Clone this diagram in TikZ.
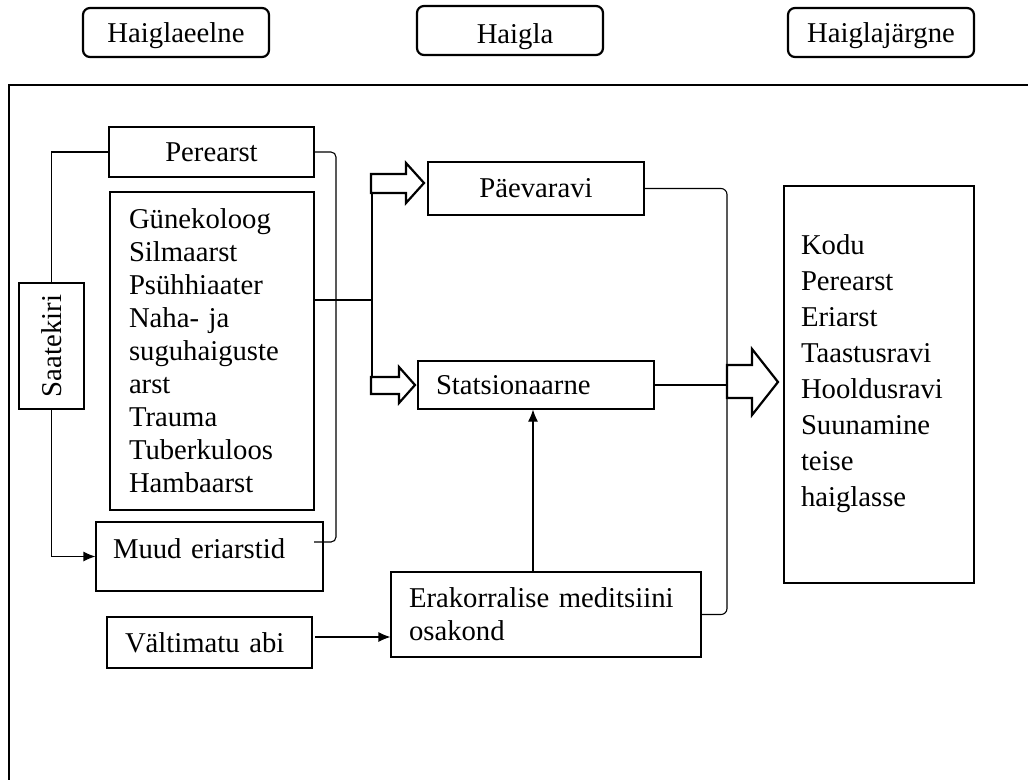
\documentclass[tikz,border=0pt]{standalone}
\usepackage{fontspec}
\setmainfont{Liberation Serif}
\usetikzlibrary{arrows.meta}

\tikzset{
  every node/.style={font=\fontsize{28.7}{33}\selectfont},
  box/.style={draw, line width=1.1pt, inner sep=0pt, align=left},
  head/.style={draw, line width=2.2pt, rounded corners=7pt, inner sep=0pt, text height=26pt, text depth=6pt, minimum width=186, minimum height=49},
  fat/.style={draw, line width=2.2pt, line join=miter, fill=white},
  link/.style={line width=1.1pt},
  tip/.style={-{Latex[length=12pt,width=10pt]}},
}

\begin{document}
\begin{tikzpicture}[x=1pt,y=1pt,yscale=-1,xscale=1]
\useasboundingbox (0,0) rectangle (1028,780);

% headers
\node[head] (hpre) at (176,32.5) {Haiglaeelne};
\node[head] (hhai) at (510,30.5) {\hspace{10pt}\raisebox{-3pt}[\height][\depth]{Haigla}};
\node[head] (hpost) at (881,32.5) {Haiglajärgne};

% frame
\draw[line width=1.3pt] (1028,85) -- (9,85) -- (9,780);

% before hospital
\node[box, rotate=90, minimum width=126, minimum height=65] (saate) at (51.5,346) {Saatekiri};
\node[box, align=center, minimum width=205, minimum height=50] (pere) at (211.5,152) {Perearst};
\node[box, text width=166, minimum width=204, minimum height=318] (spec) at (212,351)
  {Günekoloog\\Silmaarst\\Psühhiaater\\Naha- ja\\suguhaiguste\\arst\\Trauma\\Tuberkuloos\\Hambaarst};
\node[box, text width=193, minimum width=227, minimum height=69] (muud) at (209.5,556.5)
  {\raisebox{7.5pt}[\height][\depth]{Muud eriarstid}};
\node[box, text width=169, minimum width=205, minimum height=51] (valt) at (209.5,642.5) {Vältimatu abi};

% hospital
\node[box, align=center, minimum width=216, minimum height=53] (paev) at (536,188.5) {Päevaravi};
\node[box, text width=200, minimum width=236, minimum height=48] (stat) at (536,385) {Statsionaarne};
\node[box, text width=274, minimum width=310, minimum height=85] (eme) at (546,614.5)
  {\fontsize{28.7}{37}\selectfont Erakorralise meditsiini\\osakond};

% after hospital
\node[box, minimum width=190, minimum height=397] (after) at (879,384.5)
  {\raisebox{10.5pt}[\height][\depth]{\parbox{156pt}{\fontsize{28.7}{36}\selectfont
   Kodu\\Perearst\\Eriarst\\Taastusravi\\Hooldusravi\\Suunamine\\teise\\haiglasse}}};

% connectors
\coordinate (specout) at (314,300);
\coordinate (split) at (372,300);
\coordinate (tailP) at (372,193);
\coordinate (tailS) at (372,377);
\coordinate (muudin) at (314,542);
\coordinate (bigtail) at (727,385);
\coordinate (emetop) at (533,572);
\coordinate (valtout) at (315,637);

\draw[link] (saate.east) |- (pere.west);
\draw[link,tip] (saate.west) |- (muud.west);
\draw[link, rounded corners=5pt] (pere.east) -| (336,542) -- (muudin);
\draw[link] (specout) -- (split);
\draw[link] (tailP) -- (tailS);

% block arrows
\draw[fat] (371,174) -- (406,174) -- (406,163) -- (424,183) -- (406,203) -- (406,193) -- (371,193) -- cycle;
\draw[fat] (371,377) -- (399,377) -- (399,367) -- (415,385) -- (399,403) -- (399,394) -- (371,394) -- cycle;

\draw[link] (stat.east) -- (bigtail);
\draw[link, rounded corners=6pt] (paev.east) -| (bigtail) |- (eme.east);
\draw[fat] (727,365) -- (752,365) -- (752,349) -- (778,382) -- (752,415) -- (752,398) -- (727,398) -- cycle;

\draw[link,tip] (emetop) -- (emetop |- stat.south);
\draw[link,tip] (valtout) -- (valtout -| eme.west);

\end{tikzpicture}
\end{document}
